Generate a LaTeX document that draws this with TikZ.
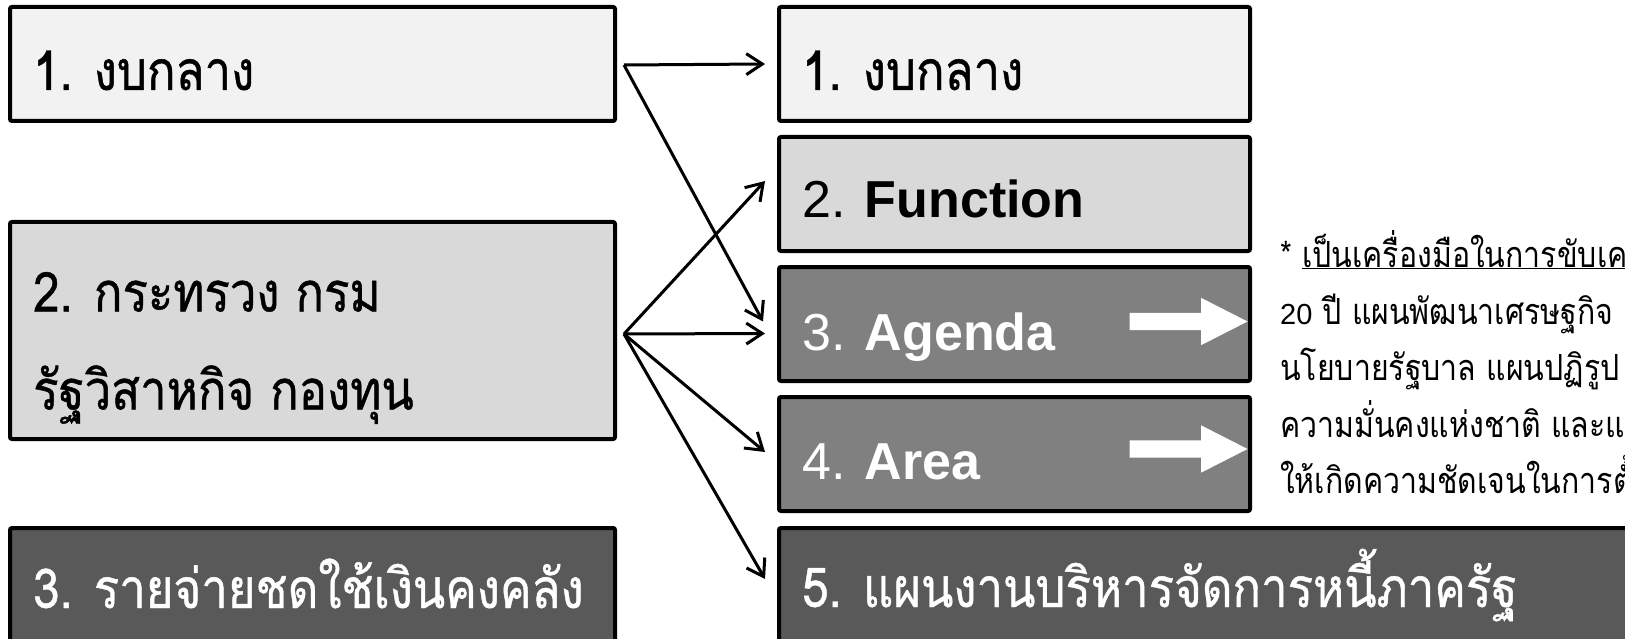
\documentclass[tikz,border=0pt]{standalone}
\usepackage{fontspec}
\setmainfont{Liberation Sans}
\newfontfamily\thai[Script=Thai,FakeStretch=0.86,FakeBold=0.8]{Loma}
\newfontfamily\thainote[Script=Thai,FakeStretch=0.84]{Loma}
\newcommand{\notelatin}{\rmfamily\fontsize{29}{36}\selectfont}
\usetikzlibrary{arrows.meta, positioning, shapes.arrows}

\definecolor{lightfill}{HTML}{F2F2F2}
\definecolor{midfill}{HTML}{D9D9D9}
\definecolor{greyfill}{HTML}{808080}
\definecolor{darkfill}{HTML}{595959}

\tikzset{
    box/.style = {draw, line width=4pt, rounded corners=2pt, inner sep=0pt, outer sep=0pt},
    lbox/.style = {box, minimum width=605pt, minimum height=114pt, anchor=north west},
    rbox/.style = {box, minimum width=471pt, minimum height=114pt},
    thaitext/.style = {anchor=base west, inner sep=0pt, font=\thai\fontsize{55}{66}\selectfont},
    rtext/.style = {anchor=base west, inner sep=0pt, font=\fontsize{52}{62}\selectfont},
    note/.style = {anchor=base west, inner sep=0pt, font=\thainote\fontsize{36}{44}\selectfont},
    conn/.style = {draw, line width=3pt, -{Straight Barb[length=16pt, width=21pt]}},
    warrow/.style = {single arrow, fill=white, draw=none, anchor=tip, minimum height=118pt,
        minimum width=47pt, inner sep=8.5pt, single arrow head extend=15pt, single arrow tip angle=54},
}

\begin{document}
\begin{tikzpicture}[x=1pt, y=-1pt]
    \useasboundingbox (0,0) rectangle (1625,639);
    \clip (0,0) rectangle (1625,639);

    % left column
    \node (L1) [lbox, fill=lightfill] at (10,7) {};
    \node (L2) [lbox, fill=midfill, minimum height=217pt] at (10,222) {};
    \node (L3) [lbox, fill=darkfill] at (10,528) {};

    \node (L1t) [thaitext] at ([xshift=23pt, yshift=-26pt]L1.west) {1. งบกลาง};
    \node (L2a) [thaitext] at ([xshift=23pt, yshift=19pt]L2.west) {2. กระทรวง กรม};
    \node (L2b) [thaitext] at ([xshift=23pt, yshift=-79pt]L2.west) {รัฐวิสาหกิจ กองทุน};
    \node (L3t) [thaitext, text=white] at ([xshift=23pt, yshift=-23pt]L3.west) {3. รายจ่ายชดใช้เงินคงคลัง};

    % right column
    \node (R1) [rbox, fill=lightfill, anchor=north west] at (779,7) {};
    \node (R2) [rbox, fill=midfill, below=16pt of R1] {};
    \node (R3) [rbox, fill=greyfill, below=16pt of R2] {};
    \node (R4) [rbox, fill=greyfill, below=16pt of R3] {};
    \node (R5) [box, fill=darkfill, minimum width=880pt, minimum height=114pt,
        below=17pt of R4.south west, anchor=north west] {};

    \node (R1t) [thaitext] at ([xshift=23pt, yshift=-26pt]R1.west) {1. งบกลาง};
    \node (R2t) [rtext] at ([xshift=23pt, yshift=-24pt]R2.west) {2. \textbf{Function}};
    \node (R3t) [rtext, text=white] at ([xshift=23pt, yshift=-26pt]R3.west) {3. \textbf{Agenda}};
    \node (R4t) [rtext, text=white] at ([xshift=23pt, yshift=-25pt]R4.west) {4. \textbf{Area}};
    \node (R5t) [thaitext, text=white] at ([xshift=23pt, yshift=-22pt]R5.west) {5. แผนงานบริหารจัดการหนี้ภาครัฐ};

    \node (A3) [warrow] at ([xshift=-2pt, yshift=2.5pt]R3.east) {};
    \node (A4) [warrow] at ([xshift=-2pt, yshift=5pt]R4.east) {};

    % note
    \node (N1) [note] at (1280,267) {* \underline{เป็นเครื่องมือในการขับเคลื่อน}};
    \node (N2) [note] at (1280,324) {{\notelatin 20} ปี แผนพัฒนาเศรษฐกิจ};
    \node (N3) [note] at (1280,380) {นโยบายรัฐบาล แผนปฏิรูป};
    \node (N4) [note] at (1280,437) {ความมั่นคงแห่งชาติ และแผน};
    \node (N5) [note] at (1280,493) {ให้เกิดความชัดเจนในการตั้ง};

    % connectors
    \coordinate (s1) at ([xshift=9pt, yshift=-1pt]L1.east);
    \coordinate (s2) at ([xshift=9pt, yshift=-3.5pt]L2.east);
    \path [conn] (s1) -- ([xshift=-14pt]R1.west);
    \path [conn] (s1) -- ([xshift=-16pt, yshift=2.5pt]R3.west);
    \path [conn] (s2) -- ([xshift=-14pt, yshift=13pt]R2.west);
    \path [conn] (s2) -- ([xshift=-14pt, yshift=-9.5pt]R3.west);
    \path [conn] (s2) -- ([xshift=-14pt, yshift=2pt]R4.west);
    \path [conn] (s2) -- ([xshift=-14pt, yshift=6pt]R5.west);
\end{tikzpicture}
\end{document}
